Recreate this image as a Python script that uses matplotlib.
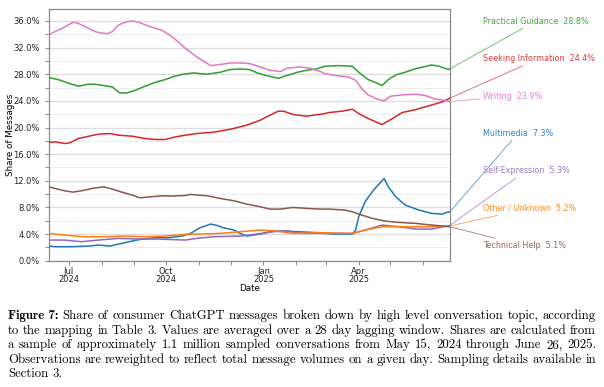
import numpy as np
import pandas as pd
import matplotlib
matplotlib.use("Agg")
import matplotlib.pyplot as plt
import matplotlib.dates as mdates
from matplotlib.ticker import MultipleLocator, FuncFormatter

# values: day offsets from START, share in percent
START = pd.Timestamp("2024-06-12")

writing_days = [0, 6, 15, 23, 27, 34, 44, 49, 56, 60, 66, 74, 79, 85, 97, 107, 116, 123, 129, 140,
                153, 159, 172, 181, 190, 200, 209, 219, 225, 238, 247, 257, 261, 271, 283, 290, 296,
                302, 310, 317, 323, 334, 347, 356, 365, 377, 379]
writing_vals = [33.9, 34.4, 35.1, 35.8, 35.7, 35.2, 34.4, 34.2, 34.1, 34.4, 35.4, 35.9, 36.0, 35.8,
                35.1, 34.6, 33.7, 32.8, 31.9, 30.6, 29.3, 29.4, 29.7, 29.7, 29.6, 29.1, 28.6, 28.4,
                28.9, 29.1, 28.9, 28.4, 28.1, 27.8, 27.6, 27.1, 25.8, 24.9, 24.3, 24.0, 24.7, 24.9,
                25.0, 24.8, 24.3, 24.0, 23.9]

guidance_days = [0, 9, 18, 28, 37, 44, 52, 60, 67, 74, 82, 91, 101, 110, 119, 127, 137, 149, 162,
                 171, 181, 190, 197, 206, 217, 225, 235, 244, 253, 261, 274, 287, 293, 302, 310, 315,
                 321, 328, 337, 346, 354, 362, 369, 378, 379]
guidance_vals = [27.5, 27.2, 26.7, 26.2, 26.5, 26.5, 26.3, 26.1, 25.2, 25.2, 25.6, 26.2, 26.8, 27.2,
                 27.7, 28.0, 28.2, 28.0, 28.3, 28.7, 28.8, 28.7, 28.2, 27.8, 27.4, 27.8, 28.3, 28.6,
                 28.8, 29.2, 29.3, 29.2, 28.3, 27.2, 26.7, 26.3, 27.2, 27.9, 28.3, 28.8, 29.1, 29.4,
                 29.2, 28.7, 28.8]

info_days = [0, 6, 15, 20, 28, 38, 47, 58, 66, 79, 91, 101, 110, 120, 129, 140, 156, 172, 187, 200,
             209, 217, 222, 231, 244, 252, 258, 265, 277, 287, 293, 302, 315, 325, 334, 347, 359,
             372, 379]
info_vals = [17.75, 17.85, 17.6, 17.7, 18.35, 18.7, 19.0, 19.1, 18.85, 18.7, 18.35, 18.2, 18.2, 18.6,
             18.85, 19.1, 19.3, 19.75, 20.35, 21.1, 21.85, 22.45, 22.45, 21.95, 21.7, 21.9, 22.0,
             22.25, 22.45, 22.75, 22.1, 21.35, 20.45, 21.35, 22.25, 22.7, 23.25, 23.85, 24.4]

tech_days = [0, 6, 15, 23, 31, 41, 52, 58, 68, 79, 86, 97, 107, 116, 129, 134, 150, 162, 175, 187,
             200, 209, 219, 231, 244, 257, 265, 280, 287, 296, 306, 318, 331, 347, 362, 379]
tech_vals = [11.1, 10.85, 10.5, 10.3, 10.5, 10.85, 11.1, 10.85, 10.35, 9.85, 9.45, 9.6, 9.75, 9.7,
             9.8, 9.95, 9.75, 9.35, 9.0, 8.5, 8.1, 7.75, 7.75, 8.0, 7.85, 7.75, 7.75, 7.6, 7.35,
             6.85, 6.35, 5.95, 5.75, 5.6, 5.35, 5.1]

media_days = [0, 6, 22, 38, 47, 58, 69, 79, 88, 101, 113, 126, 134, 143, 153, 159, 165, 175, 181,
              187, 200, 209, 219, 235, 257, 268, 287, 290, 293, 299, 307, 317, 321, 328, 337, 350,
              362, 372, 378, 379]
media_vals = [2.2, 2.1, 2.1, 2.2, 2.35, 2.2, 2.6, 2.95, 3.25, 3.45, 3.45, 3.7, 4.1, 4.95, 5.5, 5.3,
              4.95, 4.6, 4.1, 3.7, 4.0, 4.35, 4.5, 4.35, 4.2, 4.0, 4.0, 4.6, 6.6, 8.85, 10.6, 12.35,
              11.1, 9.6, 8.35, 7.6, 7.1, 7.0, 7.35, 7.3]

selfexp_days = [0, 15, 31, 47, 66, 85, 104, 129, 140, 156, 181, 197, 212, 225, 238, 257, 287, 299,
                315, 331, 347, 362, 379]
selfexp_vals = [3.1, 3.1, 2.85, 3.1, 3.35, 3.25, 3.25, 3.1, 3.35, 3.6, 3.7, 4.0, 4.35, 4.5, 4.1, 4.1,
                4.1, 4.6, 5.35, 5.1, 4.75, 4.75, 5.3]

other_days = [0, 6, 22, 34, 53, 72, 91, 110, 129, 143, 162, 181, 200, 212, 231, 257, 287, 299, 315,
              334, 356, 379]
other_vals = [4.1, 4.0, 3.75, 3.6, 3.6, 3.7, 3.6, 3.7, 3.95, 4.0, 4.1, 4.35, 4.6, 4.5, 4.1, 4.2, 4.1,
              4.6, 5.1, 5.1, 5.1, 5.2]

series = [
    ("Practical Guidance", guidance_days, guidance_vals, "#2ca02c", 28.8),
    ("Seeking Information", info_days, info_vals, "#d62728", 24.4),
    ("Writing", writing_days, writing_vals, "#e377c2", 23.9),
    ("Multimedia", media_days, media_vals, "#1f77b4", 7.3),
    ("Self-Expression", selfexp_days, selfexp_vals, "#9467bd", 5.3),
    ("Other / Unknown", other_days, other_vals, "#ff7f0e", 5.2),
    ("Technical Help", tech_days, tech_vals, "#8c564b", 5.1),
]

W, H = 604, 387
fig = plt.figure(figsize=(W / 100, H / 100), dpi=100)
ax = fig.add_axes([48.7 / W, 1 - 260.7 / H, 401 / W, 251.7 / H])

for name, days, vals, col, last in series:
    dates = START + pd.to_timedelta(days, unit="D")
    ax.plot(dates, vals, color=col, lw=1.1, zorder=3)

ax.set_xlim(START, pd.Timestamp("2025-06-26"))
ax.set_ylim(0, 37.8)

ax.yaxis.set_major_locator(MultipleLocator(4))
ax.yaxis.set_minor_locator(MultipleLocator(2))
ax.yaxis.set_major_formatter(FuncFormatter(lambda v, p: f"{v:.1f}%"))
ax.xaxis.set_major_locator(mdates.MonthLocator(bymonth=[1, 4, 7, 10]))
ax.xaxis.set_minor_locator(mdates.MonthLocator())
ax.xaxis.set_major_formatter(mdates.DateFormatter("%b\n%Y"))

ax.grid(axis="y", which="major", color="#dcdcdc", lw=0.9, zorder=0)
ax.grid(axis="y", which="minor", color="#eeeeee", lw=0.7, zorder=0)
for s in ax.spines.values():
    s.set_color("#8a8a8a")
    s.set_linewidth(0.9)
ax.tick_params(which="both", colors="#8a8a8a", labelcolor="#222222", labelsize=6, length=3, width=0.7)
ax.tick_params(axis="x", which="major", pad=1.5)
for lab in ax.get_xticklabels():
    lab.set_linespacing(0.85)

ax.set_ylabel("Share of Messages", fontsize=6.3)
ax.yaxis.set_label_coords(-0.084, 0.5)
ax.set_xlabel("Date", fontsize=6.3, labelpad=0)

# end-of-line labels on the right
label_y = [0.952, 0.803, 0.654, 0.507, 0.358, 0.209, 0.060]
for (name, days, vals, col, last), ly in zip(series, label_y):
    end = START + pd.Timedelta(days=days[-1])
    ax.annotate(f"{name}  {last:.1f}%", xy=(mdates.date2num(end), vals[-1]), xycoords="data",
                xytext=(1.083, ly), textcoords="axes fraction", color=col, fontsize=5.8,
                alpha=0.9, ha="left", va="center", annotation_clip=False,
                arrowprops=dict(arrowstyle="-", color=col, lw=0.6, alpha=0.75,
                                shrinkA=0, shrinkB=1))

# caption, justified like the paper
caption = [
    "Share of consumer ChatGPT messages broken down by high level conversation topic, according",
    "to the mapping in Table 3. Values are averaged over a 28 day lagging window. Shares are calculated from",
    "a sample of approximately 1.1 million sampled conversations from May 15, 2024 through June 26, 2025.",
    "Observations are reweighted to reflect total message volumes on a given day. Sampling details available in",
    "Section 3.",
]
cap_y = [316, 330.5, 345, 359.5, 374]
x0, x1 = 8, 596
fs = 9.2
renderer = fig.canvas.get_renderer()
for i, (line, yy) in enumerate(zip(caption, cap_y)):
    words = line.split(" ")
    objs = []
    if i == 0:
        objs.append(fig.text(0, 1 - yy / H, "Figure 7:", family="cmb10", fontsize=fs, va="center"))
    for w in words:
        objs.append(fig.text(0, 1 - yy / H, w, family="cmr10", fontsize=fs, va="center"))
    widths = [o.get_window_extent(renderer).width for o in objs]
    if i < len(caption) - 1:
        gap = (x1 - x0 - sum(widths)) / (len(objs) - 1)
    else:
        gap = 3.8
    x = x0
    for o, wd in zip(objs, widths):
        o.set_x(x / W)
        x += wd + gap

fig.savefig("out.png", dpi=100)
